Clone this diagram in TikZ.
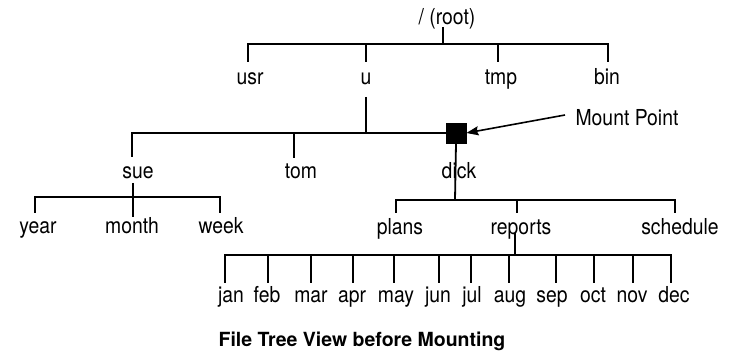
\documentclass[tikz,border=0pt]{standalone}
\usepackage{fontspec}
\setmainfont{TeX Gyre Heros}
\usetikzlibrary{arrows.meta}
\begin{document}
\begin{tikzpicture}[x=1pt,y=-1pt,
  line width=1.8pt,
  lbl/.style={font=\fontsize{22}{24}\selectfont, anchor=base, inner sep=0pt,
              xscale=0.88, transform shape},
  caption/.style={font=\fontsize{19.5}{22}\selectfont\bfseries, anchor=base, inner sep=0pt},
  mountbox/.style={draw, fill=black, line width=0.8pt, minimum size=20pt, inner sep=0pt},
  pointer/.style={line width=1.6pt, -{Stealth[length=12pt,width=9pt,inset=1.5pt]}}
]
\useasboundingbox (0,0) rectangle (731,352);

% ---------- connector end points ----------
\coordinate (rootbar) at (443,44);
\coordinate (usr-top) at (248,62);
\coordinate (u-top)   at (366,62);
\coordinate (tmp-top) at (498,62);
\coordinate (bin-top) at (608,62);

\coordinate (u-stem)   at (366,97);
\coordinate (ubar)     at (366,133);
\coordinate (sue-top)  at (132,157);
\coordinate (tom-top)  at (294,158);

\coordinate (sue-stem)  at (133,183);
\coordinate (suebar)    at (133,197);
\coordinate (year-top)  at (35,213);
\coordinate (month-top) at (133,217);
\coordinate (week-top)  at (220,213);

\coordinate (dickbar)      at (455,200);
\coordinate (plans-top)    at (396,213);
\coordinate (reports-top)  at (517,213);
\coordinate (schedule-top) at (675,213);

\coordinate (rep-stem) at (515,233);
\coordinate (repbar)   at (515,255);
\coordinate (jan-top) at (225,283);
\coordinate (feb-top) at (268,283);
\coordinate (mar-top) at (311,283);
\coordinate (apr-top) at (353,283);
\coordinate (may-top) at (394,283);
\coordinate (jun-top) at (439,283);
\coordinate (jul-top) at (471,283);
\coordinate (aug-top) at (509,283);
\coordinate (sep-top) at (556,283);
\coordinate (oct-top) at (594,283);
\coordinate (nov-top) at (633,283);
\coordinate (dec-top) at (671,283);

\coordinate (mptail) at (565,115);

% ---------- mount point marker ----------
\node[mountbox] (mount) at (456,133) {};

% ---------- tree connectors ----------
\draw (443,27) -- (rootbar);
\foreach \c in {usr,u,tmp,bin} \draw (rootbar) -| (\c-top);

\draw (u-stem) -- (ubar) -- (mount.west);
\draw (ubar) -| (sue-top);
\draw (ubar) -| (tom-top);

\draw (sue-stem) -- (suebar);
\foreach \c in {year,month,week} \draw (suebar) -| (\c-top);

\draw (mount.south) -- (dickbar);
\foreach \c in {plans,reports,schedule} \draw (dickbar) -| (\c-top);

\draw (rep-stem) -- (repbar);
\foreach \c in {jan,feb,mar,apr,may,jun,jul,aug,sep,oct,nov,dec}
  \draw (repbar) -| (\c-top);

% ---------- labels ----------
\node[lbl] (root) at (447,25) {/ (root)};
\node[lbl] (usr) at (250,85) {usr};
\node[lbl] (u)   at (366,85) {u};
\node[lbl] (tmp) at (501,85) {tmp};
\node[lbl] (bin) at (607,85) {bin};

\node[lbl] (sue)  at (138,179) {sue};
\node[lbl] (tom)  at (301,179) {tom};
\node[lbl] (dick) at (459,179) {dick};

\node[lbl] (year)  at (38,234) {year};
\node[lbl] (month) at (132,234) {month};
\node[lbl] (week)  at (221,234) {week};

\node[lbl] (plans)    at (400,235) {plans};
\node[lbl] (reports)  at (521,235) {reports};
\node[lbl] (schedule) at (680,235) {schedule};

\node[lbl] (jan) at (231,303) {jan};
\node[lbl] (feb) at (267,303) {feb};
\node[lbl] (mar) at (311,303) {mar};
\node[lbl] (apr) at (352,303) {apr};
\node[lbl] (may) at (396,303) {may};
\node[lbl] (jun) at (438,303) {jun};
\node[lbl] (jul) at (472,303) {jul};
\node[lbl] (aug) at (510,303) {aug};
\node[lbl] (sep) at (552,303) {sep};
\node[lbl] (oct) at (593,303) {oct};
\node[lbl] (nov) at (632,303) {nov};
\node[lbl] (dec) at (674,303) {dec};

\node[lbl] (mptlabel) at (627,126) {Mount Point};
\draw[pointer] (mptail) -- (mount.east);

\node[caption] (title) at (362,347) {File Tree View before Mounting};
\end{tikzpicture}
\end{document}
